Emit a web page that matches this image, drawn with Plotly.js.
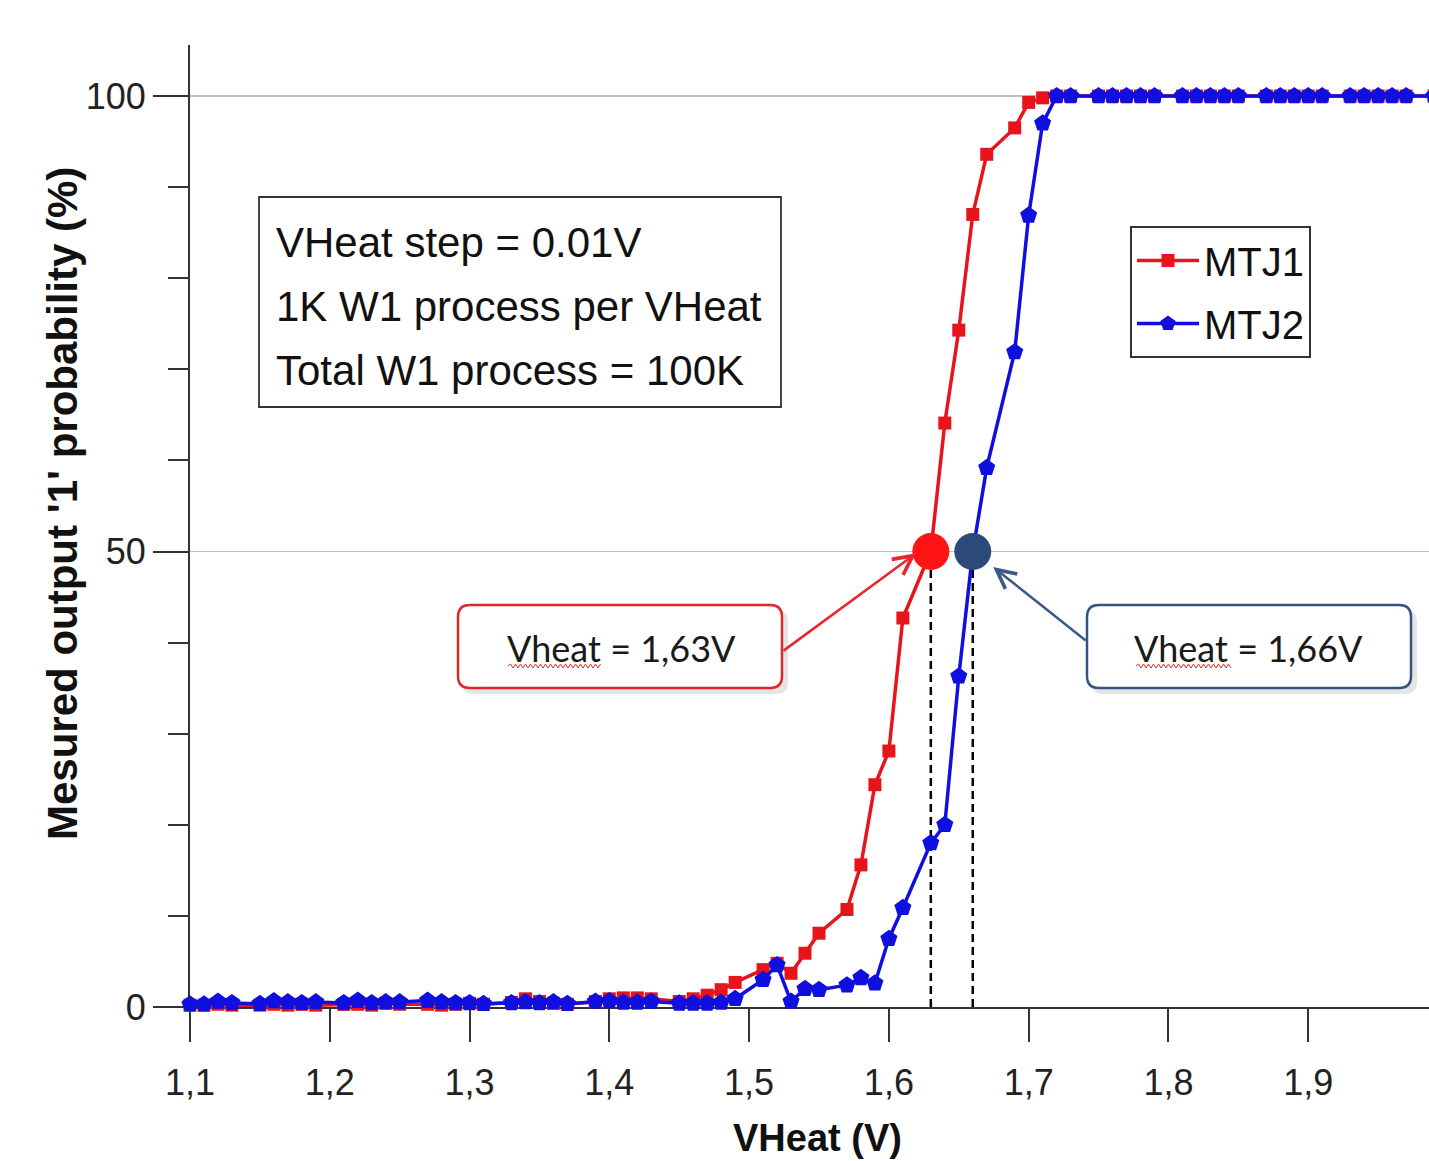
<!DOCTYPE html>
<html>
<head>
<meta charset="utf-8">
<script src="https://cdn.plot.ly/plotly-3.0.1.min.js"></script>
<style>
html,body{margin:0;padding:0;overflow:hidden;background:#fff;}
#chart{width:1470px;height:1161px;}
</style>
</head>
<body>
<div id="chart"></div>
<script>
// VHeat (V) sample positions
const vheat = [1.10,1.11,1.12,1.13,1.15,1.16,1.17,1.18,1.19,1.21,1.22,1.23,1.24,1.25,1.27,1.28,1.29,1.30,1.31,1.33,1.34,1.35,1.36,1.37,1.39,1.40,1.41,1.42,1.43,1.45,1.46,1.47,1.48,1.49,1.51,1.52,1.53,1.54,1.55,1.57,1.58,1.59,1.60,1.61,1.63,1.64,1.65,1.66,1.67,1.69,1.70,1.71,1.72,1.73,1.75,1.76,1.77,1.78,1.79,1.81,1.82,1.83,1.84,1.85,1.87,1.88,1.89,1.90,1.91,1.93,1.94,1.95,1.96,1.97,1.99,2.00];
// Measured output '1' probability (%)
const mtj1 = [0.2,0.2,0.3,0.2,0.2,0.3,0.2,0.3,0.2,0.3,0.3,0.2,0.4,0.3,0.3,0.2,0.3,0.4,0.3,0.5,0.9,0.6,0.4,0.3,0.6,0.9,1.0,1.0,0.9,0.6,0.9,1.3,1.9,2.7,4.1,4.8,3.7,5.9,8.1,10.7,15.6,24.4,28.1,42.7,50.0,64.1,74.3,87.0,93.6,96.5,99.3,99.8,100,100,100,100,100,100,100,100,100,100,100,100,100,100,100,100,100,100,100,100,100,100,100,100];
const mtj2 = [0.3,0.3,0.6,0.45,0.35,0.65,0.55,0.45,0.55,0.45,0.7,0.45,0.55,0.55,0.7,0.55,0.45,0.45,0.35,0.45,0.55,0.45,0.55,0.35,0.6,0.65,0.5,0.5,0.6,0.4,0.4,0.4,0.5,0.9,3.0,4.6,0.6,2.0,1.9,2.4,3.2,2.6,7.5,10.9,18.0,20.0,36.3,50.0,59.2,71.9,86.9,97.0,100,100,100,100,100,100,100,100,100,100,100,100,100,100,100,100,100,100,100,100,100,100,100,100];
// 50 % crossing points
const crossV = [1.63, 1.66];
const crossP = [50, 50];
const crossLabels = ["Vheat = 1,63V", "Vheat = 1,66V"];
const seriesNames = ["MTJ1", "MTJ2"];
const infoLines = ["VHeat step = 0.01V", "1K W1 process per VHeat", "Total W1 process = 100K"];
const yTitle = "Mesured output '1' probability (%)";
const xTitle = "VHeat (V)";

// layout geometry (pixels)
const L = 190, R = 22, T = 45, B = 154, W = 1470, H = 1161;
const PW = W - L - R, PH = H - T - B;
const PX = p => (p - L) / PW;
const PY = p => (H - B - p) / PH;

function roundRect(x0, y0, x1, y1, r) {
  const rx = r / PW, ry = r / PH;
  const a = PX(x0), b = PX(x1), c = PY(y0), d = PY(y1);
  return `M${a+rx},${c} L${b-rx},${c} Q${b},${c} ${b},${c-ry} L${b},${d+ry} Q${b},${d} ${b-rx},${d} L${a+rx},${d} Q${a},${d} ${a},${d+ry} L${a},${c-ry} Q${a},${c} ${a+rx},${c} Z`;
}
function wavy(x0, x1, y) {
  let s = `M${PX(x0)},${PY(y)}`;
  let up = true;
  for (let x = x0 + 2.5; x <= x1; x += 2.5) { s += ` L${PX(x)},${PY(y + (up ? -2 : 2))}`; up = !up; }
  return s;
}

const RED = '#e8141c', BLUE = '#0f0fe0', NAVY = '#2b4a7a';

const traces = [
  {x: vheat, y: mtj1, name: seriesNames[0], mode: 'lines+markers', cliponaxis: false,
   line: {color: RED, width: 3.5}, marker: {symbol: 'square', size: 13, color: RED}, legendgroup: 'a'},
  {x: vheat, y: mtj2, name: seriesNames[1], mode: 'lines+markers', cliponaxis: false,
   line: {color: BLUE, width: 3.5}, marker: {symbol: 'pentagon', size: 18, color: BLUE}, legendgroup: 'b'},
  {x: crossV, y: crossP, mode: 'markers', showlegend: false, hoverinfo: 'skip', cliponaxis: false,
   marker: {size: 37, color: ['#ff1414', NAVY], line: {width: 0}}}
];

const shapes = [
  // dashed drop lines
  {type: 'line', xref: 'x', yref: 'y', x0: crossV[0], x1: crossV[0], y0: 0, y1: crossP[0], layer: 'below',
   line: {color: '#000', width: 2.5, dash: '8px,5px'}},
  {type: 'line', xref: 'x', yref: 'y', x0: crossV[1], x1: crossV[1], y0: 0, y1: crossP[1], layer: 'below',
   line: {color: '#000', width: 2.5, dash: '8px,5px'}},
  // info box
  {type: 'rect', xref: 'paper', yref: 'paper', x0: PX(259), x1: PX(781), y0: PY(407), y1: PY(197),
   line: {color: '#333', width: 1.8}, fillcolor: 'white'},
  // callout shadows
  {type: 'path', xref: 'paper', yref: 'paper', path: roundRect(462, 610, 788, 694, 12), fillcolor: 'rgba(0,0,0,0.10)', line: {width: 0}},
  {type: 'path', xref: 'paper', yref: 'paper', path: roundRect(1091, 610, 1417, 694, 12), fillcolor: 'rgba(0,0,0,0.10)', line: {width: 0}},
  // callouts
  {type: 'path', xref: 'paper', yref: 'paper', path: roundRect(458, 605, 782, 688, 12), fillcolor: 'white', line: {color: '#e0262b', width: 2.5}},
  {type: 'path', xref: 'paper', yref: 'paper', path: roundRect(1087, 605, 1411, 688, 12), fillcolor: 'white', line: {color: '#34537f', width: 2.5}},
  // spell-check squiggles
  {type: 'path', xref: 'paper', yref: 'paper', path: wavy(508, 602, 666), line: {color: '#e03030', width: 1}},
  {type: 'path', xref: 'paper', yref: 'paper', path: wavy(1136, 1231, 666), line: {color: '#e03030', width: 1}}
];

const annotations = [
  {xref: 'paper', yref: 'paper', x: PX(62), y: PY(504), text: '<b>' + yTitle + '</b>', textangle: -90, showarrow: false,
   xanchor: 'center', yanchor: 'middle', font: {family: 'Liberation Sans, Arial', size: 42, color: '#111'}},
  {xref: 'paper', yref: 'paper', x: PX(817), y: PY(1138), text: '<b>' + xTitle + '</b>', showarrow: false,
   xanchor: 'center', yanchor: 'middle', font: {family: 'Liberation Sans, Arial', size: 38, color: '#111'}},
  // arrows
  {xref: 'x', yref: 'y', axref: 'x', ayref: 'y', x: 1.6195, y: 49.8, ax: 1.5236, ay: 39.0, text: '', showarrow: true,
   arrowhead: 5, arrowsize: 1.5, arrowwidth: 2.5, arrowcolor: '#e8262b'},
  {xref: 'x', yref: 'y', axref: 'x', ayref: 'y', x: 1.6746, y: 48.3, ax: 1.7419, ay: 40.1, text: '', showarrow: true,
   arrowhead: 5, arrowsize: 1.5, arrowwidth: 2.5, arrowcolor: '#3b5a85'},
  // callout labels
  {xref: 'paper', yref: 'paper', x: PX(621), y: PY(648), text: crossLabels[0], showarrow: false, xanchor: 'center', yanchor: 'middle',
   font: {family: 'Lato, sans-serif', size: 36, color: '#1a1a1a'}},
  {xref: 'paper', yref: 'paper', x: PX(1248), y: PY(648), text: crossLabels[1], showarrow: false, xanchor: 'center', yanchor: 'middle',
   font: {family: 'Lato, sans-serif', size: 36, color: '#1a1a1a'}}
];
const infoY = [243, 306, 370];
infoLines.forEach((t, i) => annotations.push({xref: 'paper', yref: 'paper', x: PX(274), y: PY(infoY[i]), text: t,
  showarrow: false, xanchor: 'left', yanchor: 'middle', font: {family: 'Liberation Sans, Arial', size: 42, color: '#111'}}));

const layout = {
  width: W, height: H,
  margin: {l: L, r: R, t: T, b: B, pad: 0},
  paper_bgcolor: 'white', plot_bgcolor: 'white',
  separators: ', ',
  showlegend: true,
  legend: {x: PX(1130), y: PY(226), xanchor: 'left', yanchor: 'top', bgcolor: 'white', bordercolor: '#333', borderwidth: 2,
    font: {family: 'Liberation Sans, Arial', size: 40, color: '#111'}, traceorder: 'grouped', tracegroupgap: 8,
    itemwidth: 62},
  xaxis: {range: [1.1, 2.0], tick0: 1.1, dtick: 0.1, tickformat: '.1f', ticks: 'outside', ticklen: 33, tickwidth: 2, tickcolor: '#333',
    showline: true, linecolor: '#333', linewidth: 2, showgrid: false, zeroline: false, layer: 'below traces',
    ticklabelstandoff: 10,
    tickfont: {family: 'Liberation Sans, Arial', size: 36, color: '#222'}, fixedrange: true},
  yaxis: {range: [0, 105.6], tick0: 0, dtick: 50, ticks: 'outside', ticklen: 35, tickwidth: 2, tickcolor: '#333',
    showline: true, linecolor: '#333', linewidth: 2, showgrid: true, gridcolor: '#bdbdbd', gridwidth: 1.5, zeroline: false,
    layer: 'below traces',
    minor: {dtick: 10, ticks: 'outside', ticklen: 20, tickwidth: 2, tickcolor: '#333', showgrid: false},
    tickfont: {family: 'Liberation Sans, Arial', size: 36, color: '#222'}, fixedrange: true},
  shapes: shapes,
  annotations: annotations
};

Plotly.newPlot('chart', traces, layout, {displayModeBar: false, staticPlot: true});
</script>
</body>
</html>
